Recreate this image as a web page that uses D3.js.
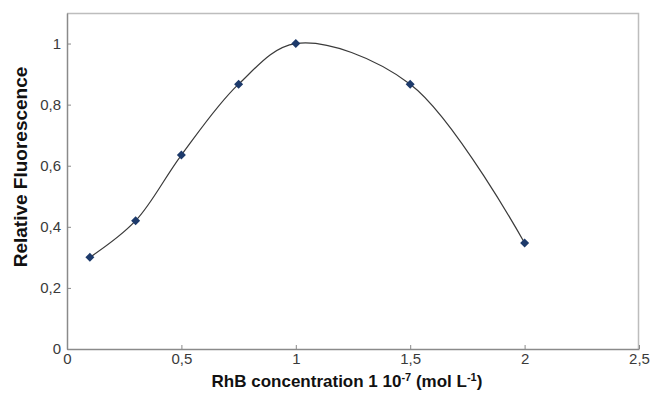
<!DOCTYPE html>
<html>
<meta charset="utf-8">
<script src="https://d3js.org/d3.v7.min.js"></script>
<style>
  body { margin: 0; background: #fff; }
  text { font-family: "Liberation Sans", Arial, sans-serif; }
</style>
<body>
<div id="my_dataviz"></div>
<script>
    // data
    var concentration = [0.1, 0.3, 0.5, 0.75, 1, 1.5, 2];
    var fluorescence = [0.30, 0.42, 0.635, 0.867, 1.0, 0.867, 0.347];
    var xTicks = [0, 0.5, 1, 1.5, 2, 2.5];
    var yTicks = [0, 0.2, 0.4, 0.6, 0.8, 1];

    var margin = {top: 13, right: 11, bottom: 45, left: 67},
        width = 650 - margin.left - margin.right,
        height = 394 - margin.top - margin.bottom;

    var svg = d3.select("#my_dataviz")
      .append("svg")
        .attr("width", 650)
        .attr("height", 394)
      .append("g")
        .attr("transform", "translate(" + margin.left + "," + margin.top + ")");

    var x = d3.scaleLinear().domain([0, 2.5]).range([0, width]);
    var y = d3.scaleLinear().domain([0, 1.1]).range([height, 0]);

    var fmt = function(d) { return String(d).replace(".", ","); };

    // frame (top and right)
    svg.append("path")
      .attr("d", "M0,0.5H" + (width - 0.5) + "V" + height)
      .attr("fill", "none")
      .attr("stroke", "#bdbdbd")
      .attr("stroke-width", 1.5);

    // X axis, ticks pointing inward
    var gx = svg.append("g")
      .attr("transform", "translate(0," + height + ")")
      .call(d3.axisBottom(x).tickValues(xTicks).tickFormat(fmt)
        .tickSizeInner(-4).tickSizeOuter(0).tickPadding(4));
    gx.select(".domain").attr("stroke", "#8a8a8a").attr("stroke-width", 1.5);
    gx.selectAll(".tick line").attr("stroke", "#8a8a8a");
    gx.selectAll("text").style("font-size", "15px").attr("fill", "#3a3a3a");

    // Y axis
    var gy = svg.append("g")
      .call(d3.axisLeft(y).tickValues(yTicks).tickFormat(fmt)
        .tickSizeInner(-4).tickSizeOuter(0).tickPadding(6));
    gy.select(".domain").attr("stroke", "#8a8a8a").attr("stroke-width", 1.5);
    gy.selectAll(".tick line").attr("stroke", "#8a8a8a");
    gy.selectAll("text").style("font-size", "15px").attr("fill", "#3a3a3a");

    // smooth line
    var pts = concentration.map(function(c, i) { return [c, fluorescence[i]]; });
    var line = d3.line()
      .x(function(d) { return x(d[0]); })
      .y(function(d) { return y(d[1]); })
      .curve(d3.curveCatmullRom.alpha(0.5));
    svg.append("path")
      .datum(pts)
      .attr("d", line)
      .attr("fill", "none")
      .attr("stroke", "#3a3a3a")
      .attr("stroke-width", 1.2);

    // diamond markers
    svg.selectAll("path.pt")
      .data(pts)
      .enter().append("path")
        .attr("class", "pt")
        .attr("d", "M0,-4.5L4.5,0L0,4.5L-4.5,0Z")
        .attr("transform", function(d) { return "translate(" + x(d[0]) + "," + y(d[1]) + ")"; })
        .attr("fill", "#1d3a6b");

    // axis titles
    svg.append("text")
      .attr("transform", "translate(" + (27 - margin.left) + "," + (167 - margin.top) + ")rotate(-90)")
      .attr("text-anchor", "middle")
      .style("font-size", "19px")
      .style("font-weight", "bold")
      .attr("fill", "#111")
      .text("Relative Fluorescence");

    var xt = svg.append("text")
      .attr("x", 347 - margin.left)
      .attr("y", 387 - margin.top)
      .attr("text-anchor", "middle")
      .style("font-size", "17px")
      .style("font-weight", "bold")
      .attr("fill", "#111");
    xt.append("tspan").text("RhB concentration 1 10");
    xt.append("tspan").attr("dy", -6).style("font-size", "11px").text("-7");
    xt.append("tspan").attr("dy", 6).text(" (mol L");
    xt.append("tspan").attr("dy", -6).style("font-size", "11px").text("-1");
    xt.append("tspan").attr("dy", 6).text(")");
</script>
</body>
</html>
